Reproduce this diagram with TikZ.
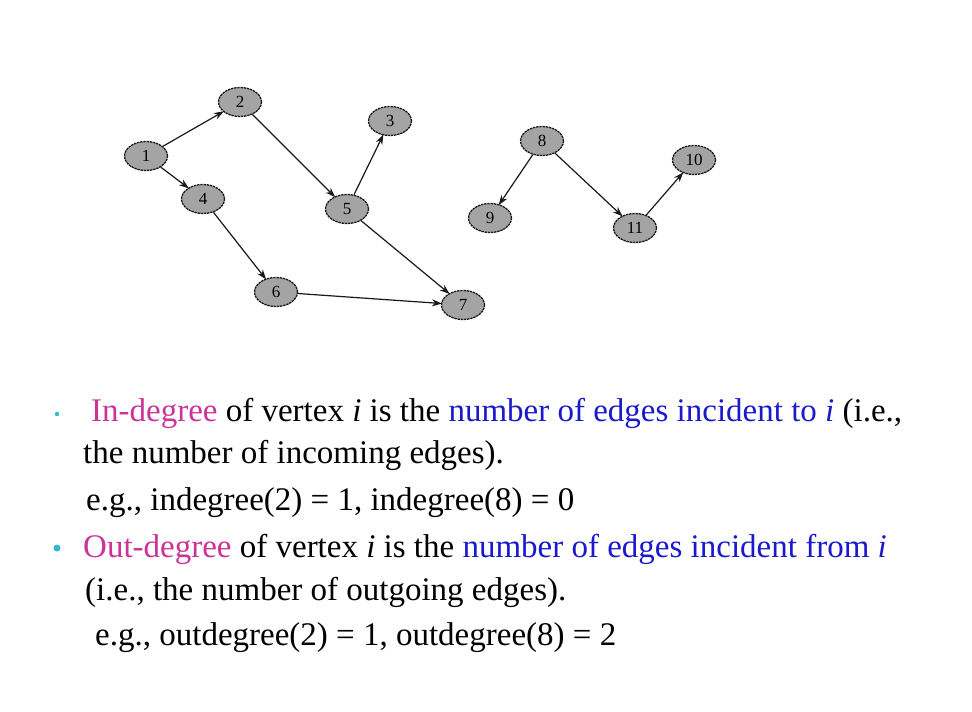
\documentclass[tikz,border=0pt]{standalone}
\usepackage{fontspec}
\setmainfont{Liberation Serif}
\usetikzlibrary{shapes.geometric,arrows.meta}
\definecolor{nodegray}{HTML}{A4A4A4}
\definecolor{magentatxt}{HTML}{CC3399}
\definecolor{bluetxt}{HTML}{1A1ACC}
\definecolor{bulletcyan}{HTML}{33BBCC}
\tikzset{
  vertex/.style={ellipse, draw=black!90, fill=nodegray, line width=1.3pt,
    dash pattern=on 2.4pt off 0.8pt, minimum width=43pt, minimum height=29pt,
    inner sep=0pt, font=\fontsize{17}{17}\selectfont},
  edge/.style={draw=black!90, line width=1.2pt, -{Stealth[length=10pt,width=7pt]}, shorten >=-1pt},
  txt/.style={anchor=base west, inner sep=0pt, font=\fontsize{33}{33}\selectfont},
}
\begin{document}
\begin{tikzpicture}[x=1pt,y=-1pt]
\useasboundingbox (0,0) rectangle (972,712);
\fill[white] (0,0) rectangle (972,712);
% vertices
\node[vertex] (n1) at (146,156) {1};
\node[vertex] (n2) at (240,102) {2};
\node[vertex] (n3) at (390,121) {3};
\node[vertex] (n4) at (203,199) {4};
\node[vertex] (n5) at (347,209) {5};
\node[vertex] (n6) at (276,292) {6};
\node[vertex] (n7) at (463,305) {7};
\node[vertex] (n8) at (542,141) {8};
\node[vertex] (n9) at (490,218) {9};
\node[vertex] (n10) at (694,160) {10};
\node[vertex] (n11) at (635,228) {11};
% edges
\draw[edge] (n1) -- (n2);
\draw[edge] (n1) -- (n4);
\draw[edge] (n2) -- (n5);
\draw[edge] (n5) -- (n3);
\draw[edge] (n5) -- (n7);
\draw[edge] (n4) -- (n6);
\draw[edge] (n6) -- (n7);
\draw[edge] (n8) -- (n9);
\draw[edge] (n8) -- (n11);
\draw[edge] (n11) -- (n10);
% bullets
\fill[bulletcyan] (57,414) circle (2.2pt);
\fill[bulletcyan] (57,548) circle (3.5pt);
% text
\node[txt] (t1) at (91,421) {\textcolor{magentatxt}{In-degree} of vertex \textit{i} is the \textcolor{bluetxt}{number of edges incident to \textit{i}} (i.e.,};
\node[txt] (t2) at (83,463) {the number of incoming edges).};
\node[txt] (t3) at (86,510) {e.g., indegree(2) = 1, indegree(8) = 0};
\node[txt] (t4) at (83,557) {\textcolor{magentatxt}{Out-degree} of vertex \textit{i} is the \textcolor{bluetxt}{number of edges incident from \textit{i}}};
\node[txt] (t5) at (85,600) {(i.e., the number of outgoing edges).};
\node[txt] (t6) at (95,645) {e.g., outdegree(2) = 1, outdegree(8) = 2};
\end{tikzpicture}
\end{document}
